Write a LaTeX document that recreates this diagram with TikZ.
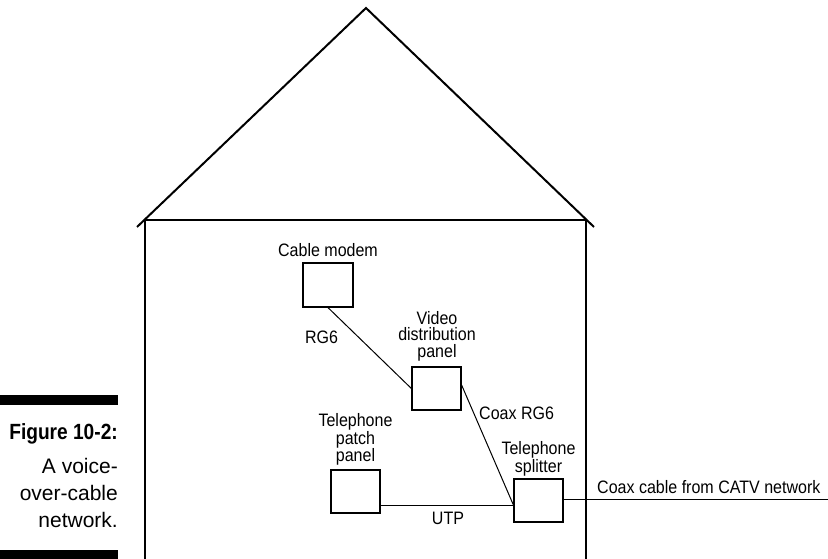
\documentclass[tikz,border=0pt]{standalone}
\usepackage{fontspec}
\usetikzlibrary{calc}
\setmainfont{Liberation Sans}
\newfontfamily\labfont[FakeStretch=0.89]{Liberation Sans}
\newfontfamily\capbold[FakeStretch=0.87]{Liberation Sans}
\newfontfamily\capreg{Liberation Sans}
\begin{document}
\begin{tikzpicture}[x=1pt,y=-1pt,
  housestyle/.style={line width=2pt, line join=miter},
  boxstyle/.style={draw, line width=1.2pt, minimum width=49pt, minimum height=43pt, inner sep=0pt},
  wire/.style={line width=1pt},
  lab/.style={font=\labfont\fontsize{18}{16.5}\selectfont, inner sep=0pt, align=center},
  bar/.style={fill=black}
]
\useasboundingbox (0,0) rectangle (828,559);
% caption
\fill[bar] (0,395) rectangle (118,405);
\fill[bar] (0,550) rectangle (118,559);
\node[anchor=north east, inner sep=0pt, align=right, font=\capreg\fontsize{21}{27}\selectfont] (caption) at (118,423)
  {{\capbold\bfseries\fontsize{22}{27}\selectfont Figure 10-2:}\\[7pt]A voice-\\over-cable\\network.};
% house
\coordinate (wl) at (145,559);
\coordinate (wr) at (586,559);
\coordinate (rl) at (137,227);
\coordinate (apex) at (366,8);
\coordinate (rr) at (594,227);
\draw[housestyle] (wl) -- (145,220) -- (586,220) -- (wr);
\draw[housestyle] (rl) -- (apex) -- (rr);
% boxes
\node[boxstyle, minimum width=50pt, minimum height=44pt] (cm) at (328,285) {};
\node[boxstyle] (vd) at (436.5,388.5) {};
\node[boxstyle] (tp) at (355.5,491.5) {};
\node[boxstyle] (ts) at (538.5,500.5) {};
% labels
\node[lab, anchor=base] (cmlab) at (328,256) {Cable modem};
\node[lab, anchor=base] (rg6) at (321.5,343) {RG6};
\node[lab, anchor=north] (vdlab) at (437,311) {Video\\distribution\\panel};
\node[lab, anchor=base west] (coaxrg6) at (479,419) {Coax RG6};
\node[lab, anchor=north] (tplab) at (355.5,413) {Telephone\\patch\\panel};
\node[lab, anchor=north] (tslab) at (538.5,441.5) {Telephone\\splitter};
\node[lab, anchor=base] (utp) at (448,524.5) {UTP};
\node[lab, anchor=base west] (catvlab) at (597,493) {Coax cable from CATV network};
% connectors
\coordinate (j) at ($(ts.west)+(0,4.5)$);
\coordinate (catv) at (828,499);
\draw[wire] (cm.south) -- (vd.west);
\draw[wire] ($(vd.east)+(0,-3.5)$) -- (j);
\draw[wire] (tp.east |- j) -- (j);
\draw[wire] (ts.east |- catv) -- (catv);
\end{tikzpicture}
\end{document}
